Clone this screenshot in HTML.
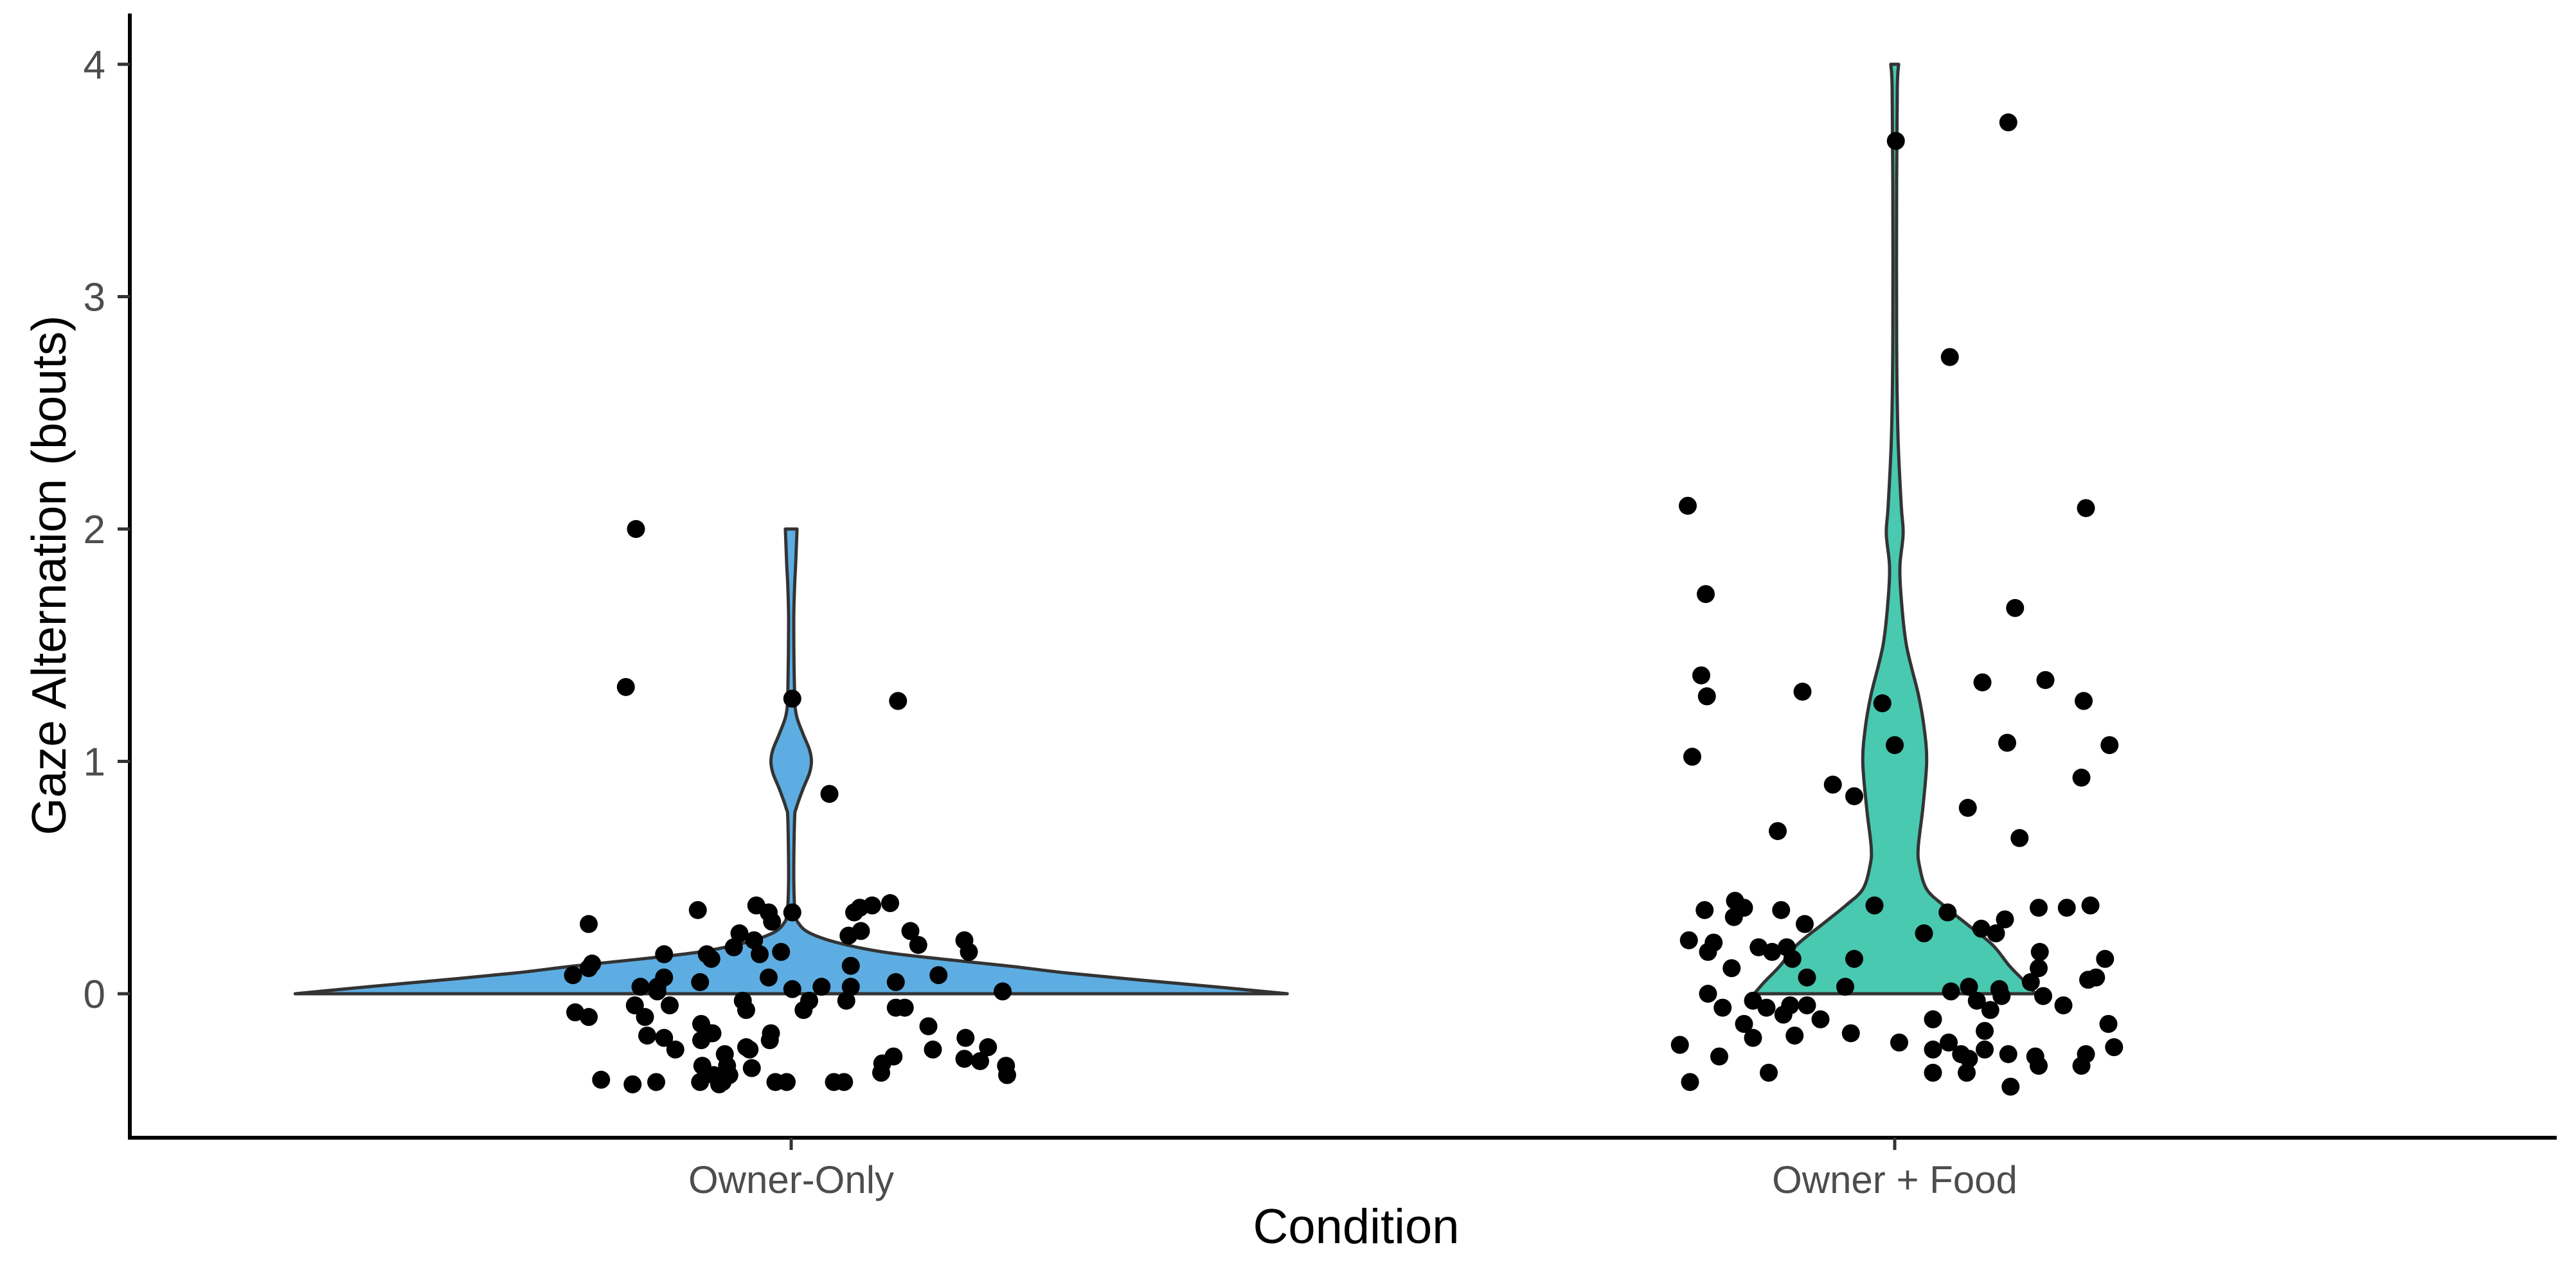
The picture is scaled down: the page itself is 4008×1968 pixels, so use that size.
<!DOCTYPE html>
<html><head><meta charset="utf-8"><style>
html,body{margin:0;padding:0;background:#fff;}
svg{display:block;}
text{font-family:"Liberation Sans",Arial,sans-serif;}
</style></head><body>
<svg id="chart" width="4008" height="1968" viewBox="0 0 4008 1968">
<rect x="0" y="0" width="4008" height="1968" fill="#fff"/>
<g id="violins"></g>
<g id="points"></g>
<g id="axes"></g>
</svg>
<script>
const categories = ["Owner-Only", "Owner + Food"];
const yTicks = [0, 1, 2, 3, 4];
const fills = ["#5DADE2", "#48C9B0"];
// violin profiles: values and half-widths (category units)
const violinOwnerValues = [0,0.03,0.06,0.09,0.12,0.15,0.18,0.22,0.26,0.3,0.35,0.5,0.75,0.8,0.88,0.95,1.0,1.05,1.12,1.2,1.3,1.6,1.75,1.85,2.0];
const violinOwnerWidths = [0.441,0.377,0.308,0.244,0.192,0.133,0.081,0.041,0.017,0.007,0.0035,0.0023,0.003,0.0046,0.0104,0.0163,0.018,0.0163,0.0104,0.0046,0.003,0.0023,0.003,0.004,0.0052];
const violinFoodValues = [0,0.05,0.12,0.21,0.3,0.38,0.45,0.55,0.63,0.8,1.0,1.15,1.29,1.5,1.7,1.84,1.98,2.1,2.4,2.8,3.5,3.9,4.0];
const violinFoodWidths = [0.125,0.116,0.102,0.087,0.064,0.0435,0.0284,0.022,0.0209,0.025,0.0284,0.026,0.0209,0.0104,0.0058,0.0046,0.0075,0.0058,0.0029,0.0017,0.0017,0.0023,0.0035];
// points: jitter (category units) and values
const ownerJitter = [-0.138,-0.147,0.001,0.095,0.034,-0.083,-0.180,-0.031,-0.020,-0.017,0.001,0.056,0.061,0.072,0.088,0.051,0.062,0.106,0.113,0.154,0.158,-0.046,-0.033,-0.028,-0.009,-0.051,-0.075,-0.071,-0.113,-0.177,-0.180,-0.194,-0.134,-0.119,-0.113,-0.081,-0.020,0.053,0.131,0.188,0.093,0.027,0.001,0.053,-0.119,-0.043,-0.040,-0.108,-0.139,-0.130,-0.192,-0.180,0.011,0.016,0.049,0.093,0.101,-0.080,-0.072,-0.080,-0.070,-0.128,-0.113,-0.103,-0.018,-0.019,-0.040,-0.037,0.122,0.126,0.155,0.154,0.175,0.168,0.191,0.192,0.091,0.081,0.080,-0.059,-0.057,-0.079,-0.069,-0.055,-0.035,-0.061,-0.081,-0.064,-0.169,-0.141,-0.120,-0.014,-0.004,0.038,0.047];
const ownerValues = [2.00,1.32,1.27,1.26,0.86,0.36,0.30,0.38,0.35,0.31,0.35,0.35,0.37,0.38,0.39,0.25,0.27,0.27,0.21,0.23,0.18,0.26,0.23,0.17,0.18,0.20,0.17,0.15,0.17,0.13,0.11,0.08,0.03,0.03,0.07,0.05,0.07,0.12,0.08,0.01,0.05,0.03,0.02,0.03,0.01,-0.03,-0.07,-0.05,-0.05,-0.10,-0.08,-0.10,-0.07,-0.03,-0.03,-0.06,-0.06,-0.13,-0.17,-0.20,-0.17,-0.18,-0.19,-0.24,-0.17,-0.20,-0.23,-0.24,-0.14,-0.24,-0.19,-0.28,-0.23,-0.29,-0.31,-0.35,-0.27,-0.30,-0.34,-0.26,-0.31,-0.31,-0.35,-0.35,-0.32,-0.38,-0.38,-0.39,-0.37,-0.39,-0.38,-0.38,-0.38,-0.38,-0.38];
const foodJitter = [0.101,0.001,0.049,-0.184,0.170,-0.168,0.107,-0.172,-0.167,-0.082,0.078,0.134,0.168,-0.011,0,0.100,0.191,-0.180,0.166,-0.055,-0.036,0.065,0.111,-0.104,-0.142,-0.134,-0.143,-0.169,-0.101,-0.080,-0.018,0.047,0.098,0.128,0.153,0.174,0.026,0.077,0.090,-0.183,-0.161,-0.166,-0.121,-0.109,-0.096,-0.091,-0.036,0.129,0.128,0.187,-0.145,-0.078,-0.044,0.050,0.066,0.093,0.095,0.121,0.132,0.172,0.179,-0.166,-0.126,-0.114,-0.153,-0.093,-0.078,-0.099,0.073,0.085,0.150,-0.134,-0.066,0.034,0.190,-0.126,-0.089,-0.039,0.004,0.080,0.048,0.034,0.080,0.059,0.066,0.101,0.125,0.128,0.170,0.166,0.195,-0.191,-0.156,-0.182,-0.112,0.034,0.064,0.103];
const foodValues = [3.75,3.67,2.74,2.10,2.09,1.72,1.66,1.37,1.28,1.30,1.34,1.35,1.26,1.25,1.07,1.08,1.07,1.02,0.93,0.90,0.85,0.80,0.67,0.70,0.40,0.37,0.33,0.36,0.36,0.30,0.38,0.35,0.32,0.37,0.37,0.38,0.26,0.28,0.26,0.23,0.22,0.18,0.20,0.18,0.20,0.15,0.15,0.18,0.11,0.15,0.11,0.07,0.03,0.01,0.03,0.02,-0.01,0.05,-0.01,0.06,0.07,0.00,-0.03,-0.06,-0.06,-0.05,-0.05,-0.09,-0.03,-0.07,-0.05,-0.13,-0.11,-0.11,-0.13,-0.19,-0.18,-0.17,-0.21,-0.16,-0.21,-0.24,-0.24,-0.26,-0.28,-0.26,-0.27,-0.31,-0.26,-0.31,-0.23,-0.22,-0.27,-0.38,-0.34,-0.34,-0.34,-0.40];

const NS = "http://www.w3.org/2000/svg";
const axisLeft = 202, axisRight = 3978, axisTop = 21, axisBottom = 1770;
const catX0 = 1231, catStep = 1717, unitPx = 1750;
function xScale(i, j) { return catX0 + i * catStep + (j || 0) * unitPx; }
function yScale(v) { return 1546 - v * 361.5; }
function mk(tag, attrs, parent) {
  const el = document.createElementNS(NS, tag);
  for (const k in attrs) el.setAttribute(k, attrs[k]);
  parent.appendChild(el);
  return el;
}
const gV = document.getElementById("violins");
const gP = document.getElementById("points");
const gA = document.getElementById("axes");

function smooth(pts) {
  // Catmull-Rom to cubic bezier
  let d = "";
  for (let k = 0; k < pts.length - 1; k++) {
    const p0 = pts[Math.max(k - 1, 0)], p1 = pts[k], p2 = pts[k + 1], p3 = pts[Math.min(k + 2, pts.length - 1)];
    const c1x = p1[0] + (p2[0] - p0[0]) / 6, c1y = p1[1] + (p2[1] - p0[1]) / 6;
    const c2x = p2[0] - (p3[0] - p1[0]) / 6, c2y = p2[1] - (p3[1] - p1[1]) / 6;
    d += " C" + c1x.toFixed(1) + "," + c1y.toFixed(1) + " " + c2x.toFixed(1) + "," + c2y.toFixed(1) + " " + p2[0].toFixed(1) + "," + p2[1].toFixed(1);
  }
  return d;
}
function violinPath(i, vals, wids) {
  const cx = xScale(i, 0);
  const right = [], left = [];
  for (let k = 0; k < vals.length; k++) right.push([cx + wids[k] * unitPx, yScale(vals[k])]);
  for (let k = vals.length - 1; k >= 0; k--) left.push([cx - wids[k] * unitPx, yScale(vals[k])]);
  return "M" + right[0][0].toFixed(1) + "," + right[0][1].toFixed(1) + smooth(right) +
    " L" + left[0][0].toFixed(1) + "," + left[0][1].toFixed(1) + smooth(left) + " Z";
}
const v1 = mk("path", {d: violinPath(0, violinOwnerValues, violinOwnerWidths), fill: fills[0], stroke: "#333", "stroke-width": 5, "stroke-linejoin": "round"}, gV);


const v2 = mk("path", {d: violinPath(1, violinFoodValues, violinFoodWidths), fill: fills[1], stroke: "#333", "stroke-width": 5, "stroke-linejoin": "round"}, gV);



function drawPoints(i, jit, vals) {
  for (let k = 0; k < vals.length; k++) {
    const c = mk("circle", {cx: xScale(i, jit[k]), cy: yScale(vals[k]), r: 14, fill: "#000"}, gP);
    
    
  }
}
drawPoints(0, ownerJitter, ownerValues);
drawPoints(1, foodJitter, foodValues);

const ya = mk("line", {x1: axisLeft, y1: axisTop, x2: axisLeft, y2: axisBottom + 3, stroke: "#000", "stroke-width": 6}, gA);


const xa = mk("line", {x1: axisLeft - 3, y1: axisBottom, x2: axisRight, y2: axisBottom, stroke: "#000", "stroke-width": 6}, gA);



yTicks.forEach(function (t) {
  const y = yScale(t);
  const tk = mk("line", {x1: axisLeft - 19, y1: y, x2: axisLeft, y2: y, stroke: "#333", "stroke-width": 5}, gA);
  
  
  const lb = mk("text", {x: 164, y: y + 22, "text-anchor": "end", "font-size": 62, fill: "#4d4d4d"}, gA);
  lb.textContent = String(t);
  
  
});
categories.forEach(function (c, i) {
  const x = xScale(i, 0);
  const tk = mk("line", {x1: x, y1: axisBottom, x2: x, y2: axisBottom + 19, stroke: "#333", "stroke-width": 5}, gA);
  
  
  const lb = mk("text", {x: x, y: 1856, "text-anchor": "middle", "font-size": 60, fill: "#4d4d4d"}, gA);
  lb.textContent = c;
  
  
});
const xt = mk("text", {x: 2110, y: 1934, "text-anchor": "middle", "font-size": 76, fill: "#000"}, gA);
xt.textContent = "Condition";


const yt = mk("text", {x: 0, y: 0, "text-anchor": "middle", "font-size": 75, fill: "#000", transform: "translate(102,895) rotate(-90)"}, gA);
yt.textContent = "Gaze Alternation (bouts)";


</script>
</body></html>
